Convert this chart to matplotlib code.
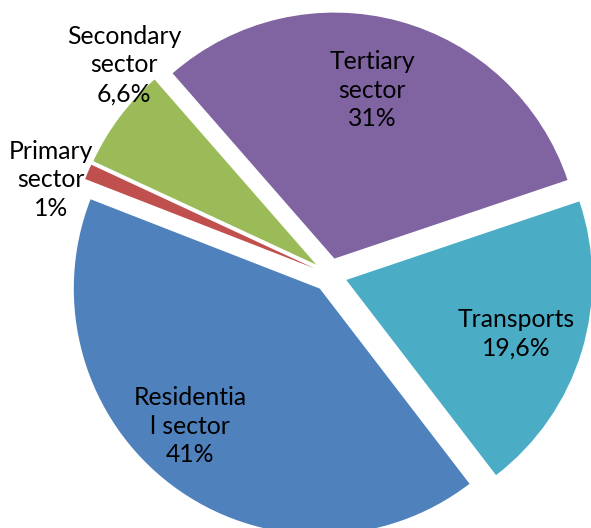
import matplotlib.pyplot as plt

# data
sectors = ["Residentia\nl sector", "Primary\nsector", "Secondary\nsector",
           "Tertiary\nsector", "Transports"]
shares = [41, 1, 6.6, 31, 19.6]
colors = ["#4F81BD", "#C0504D", "#9BBB59", "#8064A2", "#4BACC6"]

# label centres in pixels (x, y from top)
label_pos = [(190, 426), (51, 180), (124, 65), (372, 90), (516, 334)]

W, H = 591, 528
cx, cy, R = 330, 275, 246  # pie centre and radius in pixels

plt.rcParams['font.family'] = ['Lato', 'DejaVu Sans']

fig = plt.figure(figsize=(W / 100, H / 100), dpi=100)
ax = fig.add_axes([0, 0, 1, 1])

ax.pie(shares, colors=colors, startangle=-52.5, counterclock=False,
       explode=[17 / R] * len(shares), wedgeprops={'linewidth': 0})

ax.set_xlim(-cx / R, (W - cx) / R)
ax.set_ylim((cy - H) / R, cy / R)
ax.set_aspect('auto')
ax.axis('off')

for name, val, (px, py) in zip(sectors, shares, label_pos):
    pct = f"{val:g}".replace('.', ',') + "%"
    fig.text(px / W, 1 - py / H, name + "\n" + pct, ha='center', va='center',
             fontsize=17.8, linespacing=1.3, color='black')

fig.savefig("out.png", dpi=100)
